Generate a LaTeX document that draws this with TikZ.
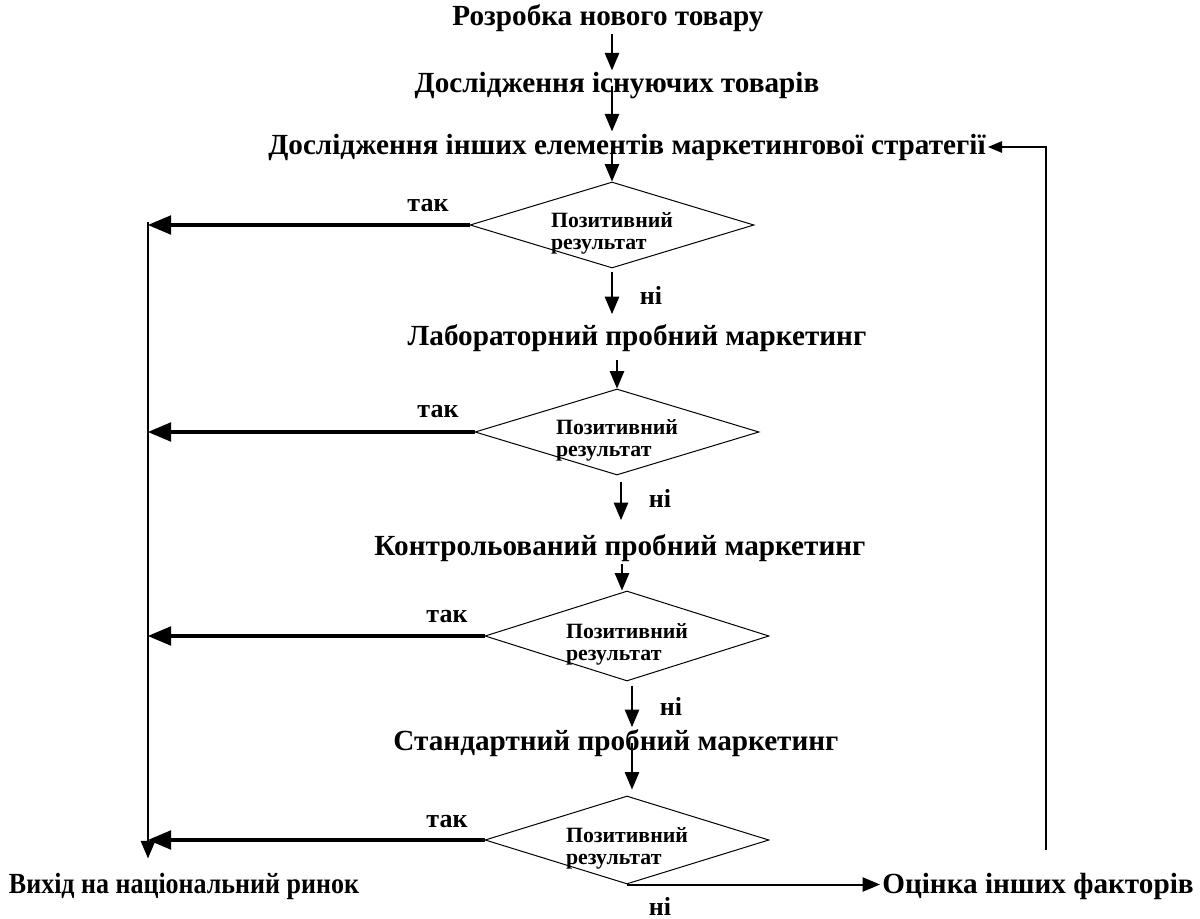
\documentclass[tikz,border=0pt]{standalone}
\usepackage{fontspec}
\setmainfont{Liberation Serif}
\newfontfamily\narrowserif{Liberation Serif}[FakeStretch=0.89]
\usetikzlibrary{arrows,shapes.geometric,calc}

\tikzset{
  stage/.style={font=\bfseries\fontsize{14.6}{16}\selectfont,inner sep=1pt},
  check/.style={diamond,draw,line width=0.5pt,aspect=3.3,inner sep=0pt,
    minimum width=142pt,minimum height=43pt,
    label={[font=\bfseries\fontsize{10.9}{11}\selectfont,align=left,yshift=-4pt]center:Позитивний\\результат}},
  answer/.style={font=\bfseries\fontsize{13}{15}\selectfont,inner sep=0pt},
  flow/.style={->,line width=1pt},
  yes/.style={->,line width=1.7pt},
}

\begin{document}
\begin{tikzpicture}[line cap=butt,line join=miter,>=triangle 45,x=0.5pt,y=-0.5pt]
	\useasboundingbox (0,0) rectangle (1200,919);
	% stages
	\node[stage] (start) at (608,18) {Розробка нового товару};
	\node[stage] (exist) at (617,86) {Дослідження існуючих товарів};
	\node[stage] (other) at (627,147) {Дослідження інших елементів маркетингової стратегії};
	\node[stage] (lab) at (637,338) {Лабораторний пробний маркетинг};
	\node[stage] (ctrl) at (620,548) {Контрольований пробний маркетинг};
	\node[stage] (std) at (616,743) {Стандартний пробний маркетинг};
	\node[stage,font=\narrowserif\bfseries\fontsize{14.6}{16}\selectfont] (exit) at (184,886) {Вихід на національний ринок};
	\node[stage] (factors) at (1038,886) {Оцінка інших факторів};
	% checks
	\node[check] (chk1) at (612,225) {};
	\node[check] (chk2) at (617,432) {};
	\node[check,minimum height=45pt] (chk3) at (627,636) {};
	\node[check,minimum height=44pt] (chk4) at (627,840) {};
	\coordinate (spine) at (148,222);
	\coordinate (loop) at (1046,850);
	% main line
	\draw[flow] (chk1.north |- start.south) -- (chk1.north |- exist.north);
	\draw[flow] (chk1.north |- exist.center) -- (chk1.north |- other.north);
	\draw[flow] (chk1.north |- other.center) -- (chk1.north);
	\draw[flow,shorten <=2pt,shorten >=4pt] (chk1.south) -- (chk1.south |- lab.north);
	\draw[flow,shorten <=3pt] (chk2.north |- lab.south) -- (chk2.north);
	\draw[flow,shorten <=3.5pt,shorten >=6pt,transform canvas={xshift=2pt}] (chk2.south) -- (chk2.south |- ctrl.north);
	\draw[flow,transform canvas={xshift=-2.5pt}] (chk3.north |- ctrl.south) -- (chk3.north);
	\draw[flow,shorten <=2pt,transform canvas={xshift=2.5pt}] (chk3.south) -- (chk3.south |- std.north);
	\draw[flow,shorten >=3pt,transform canvas={xshift=2.5pt}] (chk4.north |- std.center) -- (chk4.north);
	\draw[flow] (chk4.south) -- (chk4.south -| factors.west);
	% yes branches
	\draw[yes] (chk1.west) -- (chk1.west -| spine);
	\draw[yes] (chk2.west) -- (chk2.west -| spine);
	\draw[yes] (chk3.west) -- (chk3.west -| spine);
	\draw[yes] (chk4.west) -- (chk4.west -| spine);
	\draw[flow] (spine) -- ($(spine |- exit.north)-(0,12)$);
	\draw[->,line width=0.6pt] (loop) |- (other.east);
	% labels
	\node[answer] (yes1) at (428,206) {так};
	\node[answer] (yes2) at (438,412) {так};
	\node[answer] (yes3) at (447,617) {так};
	\node[answer] (yes4) at (447,822) {так};
	\node[answer] (no1) at (651,295) {ні};
	\node[answer] (no2) at (660,498) {ні};
	\node[answer] (no3) at (671,706) {ні};
	\node[answer] (no4) at (660,906) {ні};
\end{tikzpicture}
\end{document}
